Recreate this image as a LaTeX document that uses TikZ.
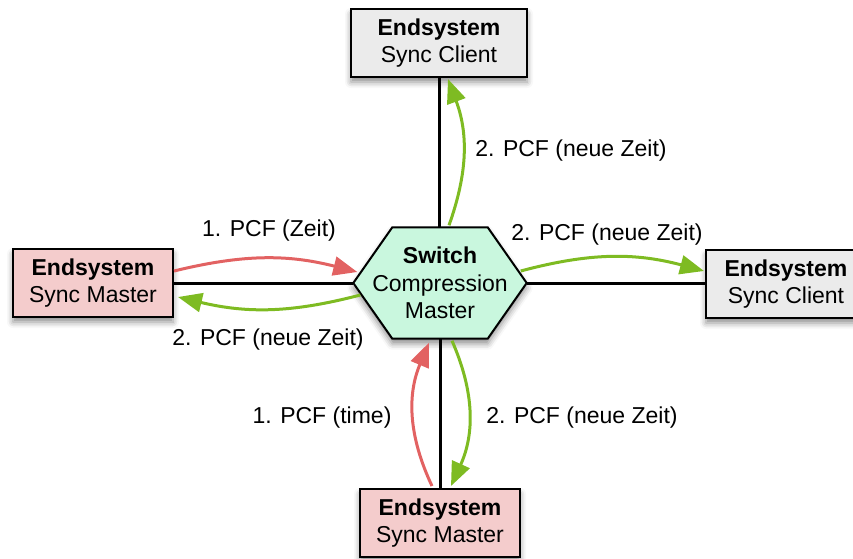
\documentclass[tikz,border=0pt]{standalone}
\usepackage{fontspec}
\setmainfont{Liberation Sans}
\usetikzlibrary{arrows.meta,shadows.blur,calc,backgrounds}
\definecolor{pinkbox}{RGB}{244,204,204}
\definecolor{graybox}{RGB}{235,235,235}
\definecolor{mint}{RGB}{201,247,222}
\definecolor{redarrow}{RGB}{226,98,98}
\definecolor{greenarrow}{RGB}{126,187,34}
\begin{document}
\begin{tikzpicture}[x=1pt,y=-1pt,
  font=\fontsize{23}{27.5}\selectfont,
  shade/.style={blur shadow={shadow xshift=0pt,shadow yshift=-5pt,shadow blur radius=6pt,shadow opacity=45}},
  box/.style={draw=black, line width=2pt, minimum width=160pt, minimum height=68pt, align=center, inner sep=0pt, shade},
  master/.style={box, fill=pinkbox},
  client/.style={box, fill=graybox},
  link/.style={line width=3pt, draw=black},
  redflow/.style={draw=redarrow, line width=3pt, -{Triangle[length=24pt,width=19pt]}},
  greenflow/.style={draw=greenarrow, line width=3pt, -{Triangle[length=24pt,width=19pt]}},
  lbl/.style={inner sep=0pt}
]
\useasboundingbox (0,0) rectangle (853,558);

\node[client, minimum width=176pt] (T) at (439,43) {\textbf{Endsystem}\\Sync Client};
\node[master] (L) at (93,283) {\textbf{Endsystem}\\Sync Master};
\node[client] (R) at (786,284) {\textbf{Endsystem}\\Sync Client};
\node[master] (B) at (440,523) {\textbf{Endsystem}\\Sync Master};

\node[minimum width=173pt, minimum height=111pt, inner sep=0pt, align=center] (sw) at (440,283)
  {\textbf{Switch}\\Compression\\Master};
\begin{scope}[on background layer]
\draw[fill=mint, line width=2pt, shade] (sw.west) -- ($(sw.north west)+(39,0)$) -- ($(sw.north east)+(-39,0)$)
  -- (sw.east) -- ($(sw.south east)+(-39,0)$) -- ($(sw.south west)+(39,0)$) -- cycle;
\end{scope}

\draw[link] (T.south) -- (T.south |- sw.north);
\draw[link] (sw.south) -- (sw.south |- B.north);
\draw[link] (L.east) -- (sw.west);
\draw[link] (sw.east) -- (sw.east -| R.west);

\draw[redflow] ($(L.east)+(0,-12)$) to[bend left=14] ($(sw.west)+(4,-11)$);
\draw[greenflow] ($(sw.west)+(7,12)$) to[bend left=14] ($(L.east)+(4,14)$);
\draw[greenflow] ($(sw.east)+(-6,-12)$) to[bend left=15] ($(R.west)+(-1,-13)$);
\draw[greenflow] ($(sw.north)+(9,-2)$) to[bend right=20] ($(T.south)+(9,1)$);
\draw[redflow] ($(B.north)+(-8,-2)$) to[bend left=24] ($(sw.south)+(-11,4)$);
\draw[greenflow] ($(sw.south)+(12,2)$) to[bend left=24] ($(B.north)+(11,-2)$);

\node[lbl] (l1) at (269,231) {1. PCF (Zeit)};
\node[lbl] (l2) at (268,340) {2. PCF (neue Zeit)};
\node[lbl] (l3) at (607,235) {2. PCF (neue Zeit)};
\node[lbl] (l4) at (571,151) {2. PCF (neue Zeit)};
\node[lbl] (l5) at (322,418) {1. PCF (time)};
\node[lbl] (l6) at (582,418) {2. PCF (neue Zeit)};
\end{tikzpicture}
\end{document}
